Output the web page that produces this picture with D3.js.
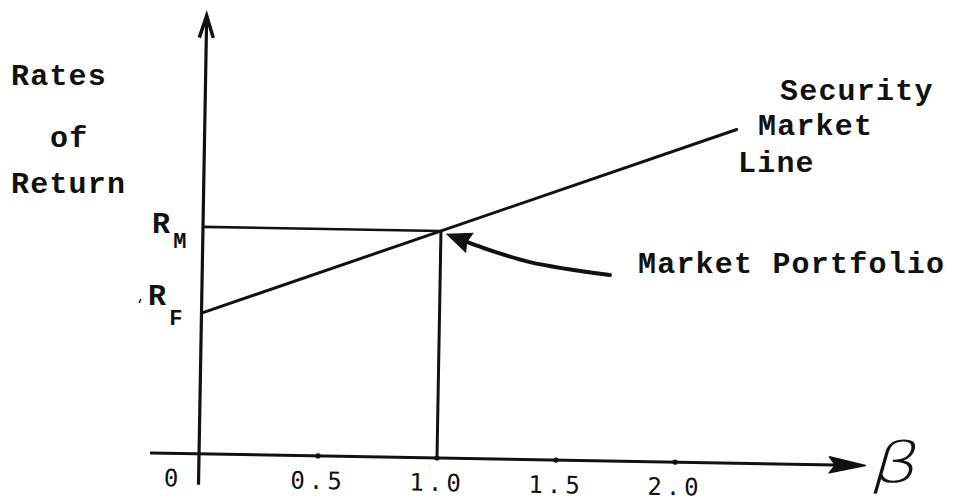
<!DOCTYPE html>
<html><head><meta charset="utf-8">
<script src="https://cdn.jsdelivr.net/npm/d3@7"></script>
<style>
html,body{margin:0;padding:0;background:#fff;}
svg{display:block;background:#fff;}
.tw{font-family:"Liberation Mono","Courier New",monospace;font-weight:bold;font-size:30px;letter-spacing:1.2px;fill:#111;}
.tick text{font-family:"DejaVu Sans Mono",monospace;font-size:24px;letter-spacing:4px;fill:#111;}
</style></head><body>
<svg id="c" width="958" height="502"></svg>
<script>
// ---- data ----
const betaTicks   = [0, 0.5, 1.0, 1.5, 2.0];
const tickLabels  = ["0", "0.5", "1.0", "1.5", "2.0"];
const riskFreeRate = 0.062;
const marketRate   = 0.100;
const marketBeta   = 1.0;
const smlBeta  = [0, 2.235];
const smlRate  = [0.062, 0.147];
const xAxisExtent = [-0.206, 2.8];
const yAxisExtent = [-0.0136, 0.193];
const calloutBeta = [1.713, 1.376, 1.165, 1.02];
const calloutRate = [0.0819, 0.0870, 0.0934, 0.0988];

// ---- layout ----
const svg = d3.select("#c");
svg.append("rect").attr("width",958).attr("height",502).attr("fill","#fff");
const x = d3.scaleLinear().domain([0, 2]).range([199, 675]);
const y = d3.scaleLinear().domain([0, 0.1]).range([458, 231]);
const ink = "#111";
const g = svg.append("g").attr("transform","rotate(1,437,458)");

// x axis line + arrow
const xEnd = x(xAxisExtent[1]);
g.append("line").attr("x1",x(xAxisExtent[0])).attr("x2",xEnd-30)
  .attr("y1",y(0)).attr("y2",y(0)).attr("stroke",ink).attr("stroke-width",3);
g.append("path").attr("d",`M${xEnd},${y(0)} L${xEnd-36},${y(0)-8} L${xEnd-30},${y(0)} L${xEnd-36},${y(0)+8} Z`)
  .attr("fill",ink).attr("stroke",ink).attr("stroke-width",1.5).attr("stroke-linejoin","round");

// y axis line + arrow
const yTop = y(yAxisExtent[1]);
g.append("line").attr("x1",x(0)).attr("x2",x(0))
  .attr("y1",y(yAxisExtent[0])).attr("y2",yTop+2).attr("stroke",ink).attr("stroke-width",3.2);
g.append("path").attr("d",`M${x(0)-7},${yTop+22} L${x(0)},${yTop} L${x(0)+7},${yTop+22}`)
  .attr("fill","none").attr("stroke",ink).attr("stroke-width",3.5).attr("stroke-linejoin","miter");

// axis ticks labels
const ax = g.append("g").attr("transform",`translate(0,${y(0)})`)
  .call(d3.axisBottom(x).tickValues(betaTicks).tickFormat((d,i)=>tickLabels[i]).tickSize(0).tickPadding(16));
ax.select(".domain").remove();
ax.selectAll(".tick text").attr("dx",(d)=> d===0 ? -26 : 0).attr("fill",ink);
g.selectAll("circle.tk").data(betaTicks.filter(d=>d>0)).join("circle").attr("class","tk")
  .attr("cx",d=>x(d)).attr("cy",y(0)).attr("r",2.6).attr("fill",ink);

// Security market line
const line = d3.line().x(d=>x(d[0])).y(d=>y(d[1]));
g.append("path").attr("d",line(smlBeta.map((b,i)=>[b,smlRate[i]])))
  .attr("fill","none").attr("stroke",ink).attr("stroke-width",3).attr("stroke-linecap","round");

// R_M horizontal and beta=1 vertical
g.append("path").attr("d",line([[0,marketRate],[marketBeta,marketRate]]))
  .attr("fill","none").attr("stroke",ink).attr("stroke-width",2.6);
g.append("path").attr("d",line([[marketBeta,marketRate],[marketBeta,0]]))
  .attr("fill","none").attr("stroke",ink).attr("stroke-width",3);

// callout arrow
const pts = calloutBeta.map((b,i)=>[x(b), y(calloutRate[i])]);
const tip = pts[pts.length-1], prev = pts[pts.length-2];
let dx = tip[0]-prev[0], dy = tip[1]-prev[1]; const L = Math.hypot(dx,dy); dx/=L; dy/=L;
const hl = 26, hw = 11;
const base = [tip[0]-dx*hl, tip[1]-dy*hl];
const cpts = pts.slice(0,-1).concat([[base[0]+dx*4, base[1]+dy*4]]);
g.append("path").attr("d", d3.line().curve(d3.curveCatmullRom)(cpts))
  .attr("fill","none").attr("stroke",ink).attr("stroke-width",4).attr("stroke-linecap","round");
g.append("path").attr("d",`M${tip[0]},${tip[1]} L${base[0]-dy*hw},${base[1]+dx*hw} L${base[0]+dx*3},${base[1]+dy*3} L${base[0]+dy*hw},${base[1]-dx*hw} Z`)
  .attr("fill",ink);

// ---- text ----
function tw(t, px, py){ return svg.append("text").attr("class","tw").attr("x",px).attr("y",py).text(t); }
tw("Rates", 11, 85);
tw("of", 50, 147);
tw("Return", 11, 193);
tw("Security", 780, 100);
tw("Market", 758, 135);
tw("Line", 738, 172);
tw("Market Portfolio", 638, 273);

const rm = svg.append("text").attr("class","tw").attr("x",152).attr("y",233);
rm.append("tspan").text("R");
rm.append("tspan").attr("dy",15).attr("dx",2).attr("font-size","22px").text("M");
const rf = svg.append("text").attr("class","tw").attr("x",148).attr("y",305);
rf.append("tspan").text("R");
rf.append("tspan").attr("dy",20).attr("dx",2).attr("font-size","22px").text("F");
svg.append("line").attr("x1",141).attr("y1",299).attr("x2",139).attr("y2",303).attr("stroke",ink).attr("stroke-width",1.6);

svg.append("text").attr("transform","translate(868,482) scale(1.35,1) skewX(-12)")
  .attr("font-family","DejaVu Sans, sans-serif").attr("font-weight","200")
  .attr("font-size","56px").attr("fill",ink).text("β");
</script>
</body></html>
